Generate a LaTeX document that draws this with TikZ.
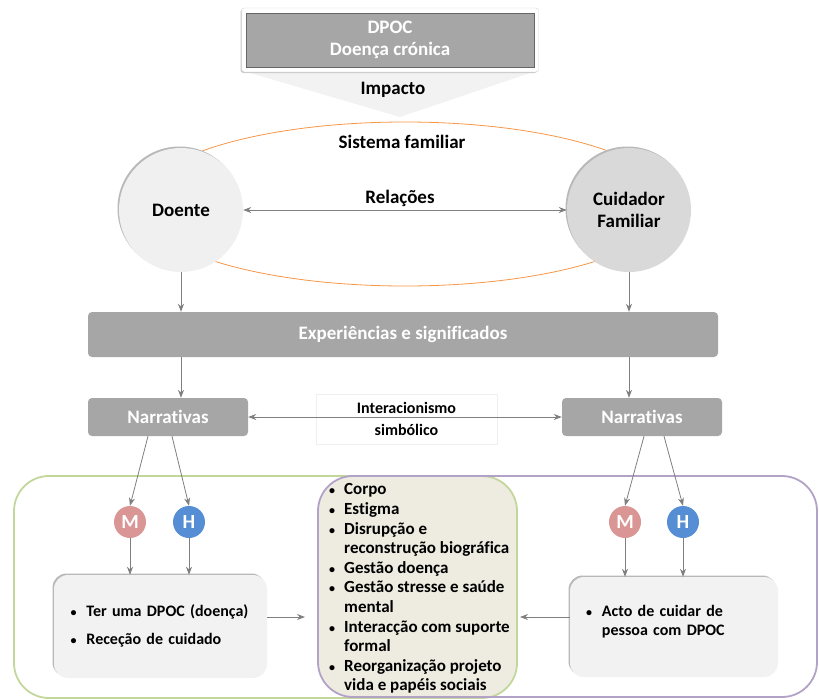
\documentclass[tikz,border=0pt]{standalone}
\usepackage{fontspec}
\setmainfont{Carlito}[Ligatures=NoCommon]
\usetikzlibrary{positioning,shadows,arrows.meta}
\definecolor{boxgray}{HTML}{A6A6A6}
\definecolor{linegray}{HTML}{7F7F7F}
\definecolor{pale}{HTML}{F2F2F2}
\definecolor{famorange}{HTML}{F79646}
\definecolor{famgreen}{HTML}{C3D69B}
\definecolor{fampurple}{HTML}{B3A2C7}
\definecolor{beige}{HTML}{EEECE1}
\definecolor{mulher}{HTML}{D99694}
\definecolor{homem}{HTML}{558ED5}
\newcommand{\pontinho}{{\fontsize{12}{12}\selectfont\textbullet}}
\tikzset{
  graybox/.style={fill=boxgray, rounded corners=4pt, text=white, inner sep=0pt,
    font=\bfseries\fontsize{19}{22}\selectfont},
  pessoa/.style={circle, minimum size=124pt, inner sep=0pt, align=center,
    font=\bfseries\fontsize{19}{22}\selectfont,
    general shadow={fill=gray!55, shadow xshift=-1.5pt, shadow yshift=1.5pt}},
  sexo/.style={circle, minimum size=32pt, inner sep=0pt, text=white,
    font=\bfseries\fontsize{20}{22}\selectfont},
  lista/.style={fill=pale, rounded corners=14pt, inner ysep=0pt, align=left,
    font=\bfseries\fontsize{16}{19}\selectfont,
    general shadow={fill=gray!55, shadow xshift=-1.5pt, shadow yshift=1.5pt}},
  seta/.style={draw=linegray, line width=0.8pt, -{Stealth[length=8pt,width=6pt]}},
  seta2/.style={draw=linegray, line width=0.8pt, {Stealth[length=8pt,width=6pt]}-{Stealth[length=8pt,width=6pt]}},
  rotulo/.style={font=\bfseries\fontsize{19}{22}\selectfont}
}
\begin{document}
\begin{tikzpicture}[x=1pt,y=-1pt]
  \useasboundingbox (0,0) rectangle (819,699);

  % impacto (seta triangular por baixo da caixa)
  \fill[pale] (247,72) -- (533,72) -- (400,117) -- cycle;
  \node[rotulo] (impacto) at (393,90) {Impacto};

  % DPOC
  \node[draw=gray!35, fill=white, rounded corners=3pt, minimum width=297pt, minimum height=64pt,
    general shadow={fill=gray!45, shadow xshift=-1pt, shadow yshift=-1pt}] (dpocframe) at (390,40) {};
  \node[graybox, rounded corners=0pt, draw=gray!80!black, minimum width=288pt, minimum height=54pt,
    align=center] (dpoc) at (390,40) {DPOC\\Doença crónica};

  % sistema familiar
  \draw[famorange, line width=0.8pt] (405,204) ellipse (266 and 82);
  \node[rotulo] (sistema) at (402,142) {Sistema familiar};

  \node[pessoa, fill=gray!12] (doente) at (181,210) {Doente};
  \node[pessoa, fill=gray!30] (cuidador) at (629,210) {Cuidador\\Familiar};

  \node[rotulo] (relacoes) at (400,198) {Relações};
  \draw[seta2] (doente) -- (cuidador);

  % experiencias
  \node[graybox, minimum width=630pt, minimum height=45pt] (exper) at (403,334.5) {Experiências e significados};
  \draw[seta] (doente.south) -- (doente.south |- exper.north);
  \draw[seta] (cuidador.south) -- (cuidador.south |- exper.north);

  % narrativas
  \node[graybox, minimum width=160pt, minimum height=38pt] (narrL) at (168,417) {Narrativas};
  \node[graybox, minimum width=160pt, minimum height=38pt] (narrR) at (642,417) {Narrativas};
  \draw[seta] (exper.south -| doente) -- (narrL.north -| doente);
  \draw[seta] (exper.south -| cuidador) -- (narrR.north -| cuidador);

  \node[draw=yellow!8!gray!15, minimum width=181pt, minimum height=50pt, align=center,
    font=\bfseries\fontsize{16}{21.5}\selectfont] (inter) at (406.5,419) {Interacionismo\\simbólico};
  \draw[seta2] (narrL) -- (narrR);

  % grupos de baixo
  \begin{scope}
    \clip[rounded corners=35pt] (14,476) rectangle (517,698);
    \fill[beige, rounded corners=35pt] (318,476) rectangle (817,697);
  \end{scope}
  \draw[famgreen, line width=1.8pt, rounded corners=35pt] (14,476) rectangle (517,698);
  \draw[fampurple, line width=1.8pt, rounded corners=35pt] (318,476) rectangle (817,697);

  % mulher / homem
  \node[sexo, fill=mulher] (mL) at (130,522) {M};
  \node[sexo, fill=homem] (hL) at (189,522) {H};
  \node[sexo, fill=mulher] (mR) at (625,522) {M};
  \node[sexo, fill=homem] (hR) at (683,522) {H};
  \draw[seta] ([xshift=-20pt]narrL.south) -- (mL.north);
  \draw[seta] ([xshift=4pt]narrL.south) -- (hL.north);
  \draw[seta] ([xshift=2pt]narrR.south) -- (mR.north);
  \draw[seta] ([xshift=22pt]narrR.south) -- (hR.north);

  % caixas de experiencias
  \node[lista, minimum width=213pt, minimum height=103pt, text width=180pt, inner xsep=16pt]
    (boxL) at (160.5,626.5)
    {\begin{tabular}{@{}l@{\hspace{10pt}}l@{}}
      \pontinho & Ter uma DPOC (doença)\\[9pt]
      \pontinho & Receção de cuidado
    \end{tabular}};
  \node[lista, minimum width=208pt, minimum height=100pt, text width=176pt, inner xsep=16pt]
    (boxR) at (674,627)
    {\begin{tabular}{@{}l@{\hspace{10pt}}l@{}}
      \pontinho & Acto de cuidar de\\
                & pessoa com DPOC\\[10pt]
    \end{tabular}};
  \draw[seta] (mL.south) -- (mL.south |- boxL.north);
  \draw[seta] (hL.south) -- (hL.south |- boxL.north);
  \draw[seta] (mR.south) -- (mR.south |- boxR.north);
  \draw[seta] (hR.south) -- (hR.south |- boxR.north);

  % temas partilhados
  \node[anchor=north west, inner sep=0pt, align=left,
    font=\bfseries\fontsize{17}{19.6}\selectfont] (temas) at (329,481)
    {\begin{tabular}{@{}l@{\hspace{9pt}}l@{}}
      \pontinho & Corpo\\
      \pontinho & Estigma\\
      \pontinho & Disrupção e\\
                & reconstrução biográfica\\
      \pontinho & Gestão doença\\
      \pontinho & Gestão stresse e saúde\\
                & mental\\
      \pontinho & Interacção com suporte\\
                & formal\\
      \pontinho & Reorganização projeto\\
                & vida e papéis sociais
    \end{tabular}};
  \coordinate (temasW) at (305,617);
  \coordinate (temasE) at (520,617);
  \draw[seta] (boxL.east |- temasW) -- (temasW);
  \draw[seta] (boxR.west |- temasE) -- (temasE);
\end{tikzpicture}
\end{document}
